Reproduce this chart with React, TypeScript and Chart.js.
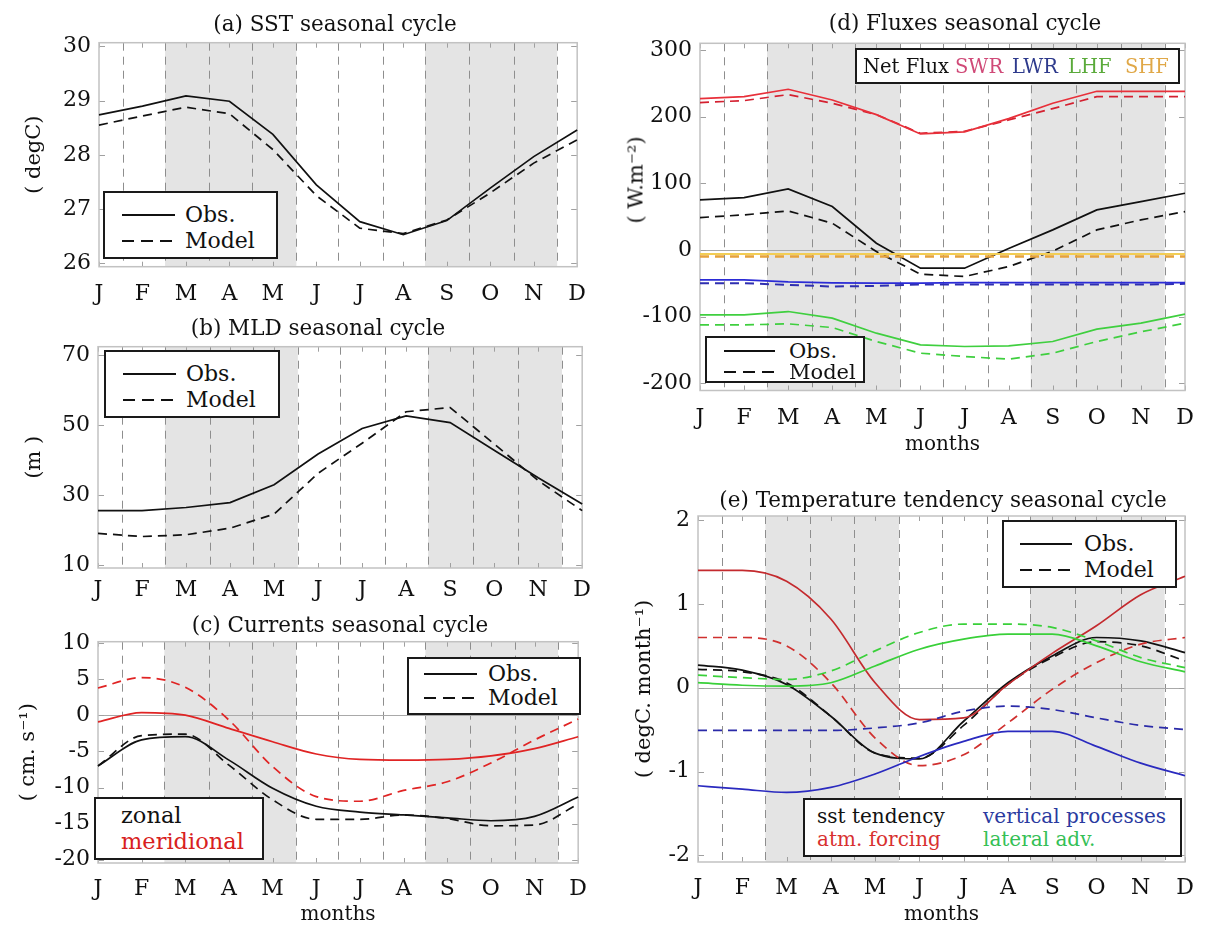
import React, { useEffect, useRef } from 'react';
import { Chart, registerables } from 'chart.js';

Chart.register(...registerables);

const FONT = "'DejaVu Serif', serif";
Chart.defaults.font.family = FONT;
Chart.defaults.color = '#111';

// ---------- data ----------
const MONTHS = ['J', 'F', 'M', 'A', 'M', 'J', 'J', 'A', 'S', 'O', 'N', 'D'];
// month boundaries (dashed lines) and shaded seasons, in month-index units
const BOUNDS = [0.55, 1.52, 2.54, 3.52, 4.54, 5.5, 6.53, 7.5, 8.52, 9.55, 10.54];
const BANDS = [[1.52, 4.54], [7.5, 10.54]];

// (a) SST (degC)
const SST_OBS = [28.74, 28.9, 29.09, 28.99, 28.38, 27.45, 26.77, 26.53, 26.79, 27.39, 27.97, 28.46];
const SST_MODEL = [28.55, 28.72, 28.88, 28.76, 28.1, 27.25, 26.65, 26.55, 26.8, 27.3, 27.85, 28.28];
const SST_TICKS = [26, 27, 28, 29, 30];

// (b) MLD (m)
const MLD_OBS = [25.5, 25.5, 26.4, 27.8, 32.9, 41.7, 49, 52.6, 50.7, 42.8, 34.9, 27.4];
const MLD_MODEL = [19, 18.1, 18.6, 20.5, 24.5, 36.2, 44.8, 53.8, 55, 44.6, 34.1, 25.5];
const MLD_TICKS = [10, 30, 50, 70];

// (c) currents (cm/s)
const ZONAL_OBS = [-7, -3.4, -2.95, -6.2, -10.1, -12.6, -13.4, -13.8, -14.2, -14.6, -14.0, -11.3];
const ZONAL_MODEL = [-7, -2.8, -2.6, -6.9, -11.7, -14.4, -14.4, -13.8, -14.3, -15.3, -15.2, -12.3];
const MERID_OBS = [-0.9, 0.4, 0.04, -1.8, -3.65, -5.35, -6.1, -6.2, -6.1, -5.6, -4.6, -2.95];
const MERID_MODEL = [3.8, 5.25, 3.9, -0.65, -7.1, -11.25, -11.9, -10.4, -9.2, -6.6, -3.4, -0.5];
const CUR_TICKS = [-20, -15, -10, -5, 0, 5, 10];

// (d) fluxes (W/m2)
const NET_OBS = [75, 78.5, 91.5, 65, 10, -27.5, -27.5, 2, 30, 60, 72.5, 85];
const NET_MODEL = [48.5, 52.5, 58.5, 40, -2.5, -36.5, -40, -25, -2, 30, 45, 57.5];
const SWR_OBS = [227, 230, 241, 225, 203, 174, 177, 197, 220, 238, 238, 238];
const SWR_MODEL = [221, 224, 233, 220, 203, 175, 178, 195, 212, 230, 230, 230];
const LWR_OBS = [-45, -45, -48, -49.5, -50, -50, -49, -49, -49, -49, -49, -49];
const LWR_MODEL = [-50, -50, -52.5, -55, -54, -52, -52, -52, -52, -52, -52, -51];
const LHF_OBS = [-97.5, -97.5, -92.5, -102.5, -125, -142.5, -145, -144, -137.5, -119, -110, -96.5];
const LHF_MODEL = [-112.5, -112.5, -111, -116.5, -137.5, -155, -160, -164, -155, -137.5, -123, -110];
const SHF_OBS = [-6, -6, -6, -6, -6, -6, -6, -6, -6, -6, -6, -6];
const SHF_MODEL = [-10, -10, -10, -10, -10, -10, -10, -10, -10, -10, -10, -10];
const FLUX_TICKS = [-200, -100, 0, 100, 200, 300];

// (e) temperature tendency (degC/month)
const TEND_OBS = [0.27, 0.21, 0.04, -0.34, -0.78, -0.85, -0.4, 0.06, 0.38, 0.6, 0.56, 0.42];
const TEND_MODEL = [0.22, 0.19, 0.06, -0.34, -0.78, -0.84, -0.45, 0.04, 0.36, 0.55, 0.5, 0.32];
const ATM_OBS = [1.4, 1.4, 1.27, 0.82, 0.06, -0.38, -0.36, 0.04, 0.41, 0.74, 1.11, 1.33];
const ATM_MODEL = [0.6, 0.6, 0.5, 0.06, -0.6, -0.93, -0.8, -0.42, -0.02, 0.3, 0.52, 0.6];
const VERT_OBS = [-1.17, -1.21, -1.25, -1.19, -1.03, -0.82, -0.64, -0.52, -0.52, -0.7, -0.9, -1.05];
const VERT_MODEL = [-0.51, -0.51, -0.51, -0.51, -0.48, -0.42, -0.28, -0.22, -0.26, -0.36, -0.45, -0.5];
const LAT_OBS = [0.06, 0.03, 0.02, 0.06, 0.26, 0.46, 0.58, 0.64, 0.64, 0.5, 0.31, 0.19];
const LAT_MODEL = [0.15, 0.12, 0.1, 0.2, 0.44, 0.66, 0.76, 0.76, 0.72, 0.56, 0.36, 0.24];
const TEND_TICKS = [-2, -1, 0, 1, 2];

// ---------- styles ----------
const BLACK = '#111111';
const DASH = [9, 6];

type Series = { data: number[]; color: string; dashed?: boolean; width?: number };

const decorPlugin = {
  id: 'decor',
  beforeDatasetsDraw(chart: any, _args: any, opts: any) {
    const { ctx, chartArea: a, scales } = chart;
    const x = scales.x, y = scales.y;
    ctx.save();
    ctx.fillStyle = '#e4e4e4';
    for (const [s, e] of BANDS) {
      const x0 = x.getPixelForValue(s), x1 = x.getPixelForValue(e);
      ctx.fillRect(x0, a.top, x1 - x0, a.bottom - a.top);
    }
    ctx.strokeStyle = '#8e8e8e';
    ctx.lineWidth = 1;
    ctx.setLineDash([8, 6]);
    for (const b of BOUNDS) {
      const px = Math.round(x.getPixelForValue(b)) + 0.5;
      ctx.beginPath();
      ctx.moveTo(px, a.top);
      ctx.lineTo(px, a.bottom);
      ctx.stroke();
    }
    ctx.setLineDash([]);
    if (opts && opts.zero) {
      const py = Math.round(y.getPixelForValue(0)) + 0.5;
      ctx.strokeStyle = '#a9a9a9';
      ctx.lineWidth = 1.2;
      ctx.beginPath();
      ctx.moveTo(a.left, py);
      ctx.lineTo(a.right, py);
      ctx.stroke();
    }
    ctx.strokeStyle = '#a0a0a0';
    ctx.lineWidth = 1;
    for (let i = 0; i < MONTHS.length; i++) {
      const px = Math.round(x.getPixelForValue(i)) + 0.5;
      ctx.beginPath();
      ctx.moveTo(px, a.top); ctx.lineTo(px, a.top + 5);
      ctx.moveTo(px, a.bottom); ctx.lineTo(px, a.bottom - 5);
      ctx.stroke();
    }
    for (const t of y.ticks) {
      const py = Math.round(y.getPixelForValue(t.value)) + 0.5;
      ctx.beginPath();
      ctx.moveTo(a.left, py); ctx.lineTo(a.left + 6, py);
      ctx.moveTo(a.right, py); ctx.lineTo(a.right - 6, py);
      ctx.stroke();
    }
    ctx.strokeStyle = '#c2c2c2';
    ctx.lineWidth = 1.5;
    ctx.strokeRect(a.left, a.top, a.right - a.left, a.bottom - a.top);
    ctx.restore();
  },
};

type PanelCfg = {
  canvas: { left: number; top: number; width: number; height: number };
  area: { L: number; T: number; R: number; B: number };
  yMin: number; yMax: number; yTicks: number[];
  yTitle?: string; yTitlePad?: number;
  xTitlePad?: number; xTickPad: number;
  zero?: boolean; tension?: number;
  series: Series[];
};

function Panel({ cfg }: { cfg: PanelCfg }) {
  const ref = useRef<HTMLCanvasElement>(null);
  const c = cfg.canvas;
  useEffect(() => {
    const area = cfg.area;
    const chart = new Chart(ref.current as HTMLCanvasElement, {
      type: 'line',
      data: {
        labels: MONTHS,
        datasets: cfg.series.map((s) => ({
          data: s.data,
          borderColor: s.color,
          borderWidth: s.width ?? 1.7,
          borderDash: s.dashed ? DASH : [],
          pointRadius: 0,
          fill: false,
          tension: cfg.tension ?? 0,
          cubicInterpolationMode: cfg.tension ? 'monotone' : 'default',
        })) as any,
      },
      options: {
        responsive: false,
        maintainAspectRatio: false,
        animation: false,
        events: [],
        layout: { padding: { left: 0, top: area.T - c.top, right: c.left + c.width - area.R, bottom: 0 } },
        plugins: {
          legend: { display: false },
          tooltip: { enabled: false },
          title: { display: false },
          decor: { zero: !!cfg.zero },
        } as any,
        scales: {
          x: {
            type: 'category',
            offset: false,
            grid: { display: false, drawTicks: false },
            border: { display: false },
            ticks: { autoSkip: false, maxRotation: 0, padding: cfg.xTickPad, color: BLACK, font: { family: FONT, size: 22 } },
            title: cfg.xTitlePad !== undefined
              ? { display: true, text: 'months', color: BLACK, font: { family: FONT, size: 20 }, padding: { top: 0, bottom: cfg.xTitlePad } }
              : { display: false },
            afterFit: (s: any) => { s.height = c.top + c.height - area.B; },
          },
          y: {
            type: 'linear',
            min: cfg.yMin,
            max: cfg.yMax,
            grid: { display: false, drawTicks: false },
            border: { display: false },
            ticks: { padding: 8, color: BLACK, font: { family: FONT, size: 22 }, callback: (v: any) => String(v) },
            afterBuildTicks: (s: any) => { s.ticks = cfg.yTicks.map((v) => ({ value: v })); },
            title: cfg.yTitle
              ? { display: true, text: cfg.yTitle, color: BLACK, font: { family: FONT, size: 21 }, padding: { top: cfg.yTitlePad ?? 20, bottom: 0 } }
              : { display: false },
            afterFit: (s: any) => { s.width = area.L - c.left; },
          },
        },
      } as any,
      plugins: [decorPlugin],
    });
    return () => chart.destroy();
  }, []);
  return (
    <canvas
      ref={ref}
      width={c.width}
      height={c.height}
      style={{ position: 'absolute', left: c.left, top: c.top, width: c.width, height: c.height }}
    />
  );
}

const PANELS: PanelCfg[] = [
  {
    canvas: { left: 0, top: 0, width: 600, height: 305 },
    area: { L: 99, T: 42.7, R: 583, B: 266.7 },
    yMin: 25.94, yMax: 30.07, yTicks: SST_TICKS,
    yTitle: '( degC)', yTitlePad: 22.4, xTickPad: 14,
    series: [
      { data: SST_OBS, color: BLACK },
      { data: SST_MODEL, color: BLACK, dashed: true },
    ],
  },
  {
    canvas: { left: 0, top: 310, width: 600, height: 300 },
    area: { L: 98, T: 346.7, R: 585, B: 568 },
    yMin: 9.1, yMax: 72.4, yTicks: MLD_TICKS,
    yTitle: '(m )', yTitlePad: 22.4, xTickPad: 9,
    series: [
      { data: MLD_OBS, color: BLACK },
      { data: MLD_MODEL, color: BLACK, dashed: true },
    ],
  },
  {
    canvas: { left: 0, top: 612, width: 600, height: 316 },
    area: { L: 98, T: 641.7, R: 585, B: 863 },
    yMin: -20.46, yMax: 10.22, yTicks: CUR_TICKS,
    yTitle: '( cm. s\u207B\u00B9)', yTitlePad: 16.4, xTickPad: 13, xTitlePad: 1,
    zero: true, tension: 0.35,
    series: [
      { data: MERID_OBS, color: '#e02424' },
      { data: MERID_MODEL, color: '#e02424', dashed: true },
      { data: ZONAL_OBS, color: BLACK },
      { data: ZONAL_MODEL, color: BLACK, dashed: true },
    ],
  },
  {
    canvas: { left: 600, top: 0, width: 612, height: 460 },
    area: { L: 700, T: 43.3, R: 1185, B: 390.5 },
    yMin: -211, yMax: 310, yTicks: FLUX_TICKS,
    xTickPad: 15, xTitlePad: 3,
    zero: true,
    series: [
      { data: SHF_OBS, color: '#f2cd55', width: 2 },
      { data: SHF_MODEL, color: '#e6a23c', dashed: true, width: 2.4 },
      { data: LWR_OBS, color: '#2b2bd6' },
      { data: LWR_MODEL, color: '#2f2fb0', dashed: true, width: 2 },
      { data: LHF_OBS, color: '#3fcf3f' },
      { data: LHF_MODEL, color: '#3fcf3f', dashed: true },
      { data: SWR_OBS, color: '#e8303a' },
      { data: SWR_MODEL, color: '#d42030', dashed: true },
      { data: NET_OBS, color: BLACK },
      { data: NET_MODEL, color: BLACK, dashed: true },
    ],
  },
  {
    canvas: { left: 600, top: 470, width: 612, height: 458 },
    area: { L: 698, T: 516, R: 1185, B: 862 },
    yMin: -2.08, yMax: 2.05, yTicks: TEND_TICKS,
    yTitle: '( degC. month\u207B\u00B9)', yTitlePad: 32.4, xTickPad: 13, xTitlePad: 1,
    zero: true, tension: 0.3,
    series: [
      { data: VERT_OBS, color: '#2a2abf' },
      { data: VERT_MODEL, color: '#2a2aa8', dashed: true },
      { data: LAT_OBS, color: '#39d039' },
      { data: LAT_MODEL, color: '#39d039', dashed: true },
      { data: ATM_OBS, color: '#c42a2e' },
      { data: ATM_MODEL, color: '#d0302f', dashed: true },
      { data: TEND_OBS, color: BLACK },
      { data: TEND_MODEL, color: BLACK, dashed: true },
    ],
  },
];

// ---------- HTML text overlays ----------
const TITLES = [
  { text: '(a) SST seasonal cycle', x: 335, y: 24 },
  { text: '(b) MLD seasonal cycle', x: 318, y: 328 },
  { text: '(c) Currents seasonal cycle', x: 340, y: 625 },
  { text: '(d) Fluxes seasonal cycle', x: 965, y: 23 },
  { text: '(e) Temperature tendency seasonal cycle', x: 943, y: 500 },
];

function Title({ text, x, y }: { text: string; x: number; y: number }) {
  return (
    <div style={{ position: 'absolute', left: x, top: y, transform: 'translate(-50%,-50%)', fontFamily: FONT, fontSize: 21.5, lineHeight: 1, whiteSpace: 'nowrap', color: BLACK }}>
      {text}
    </div>
  );
}

type Box = { x: number; y: number; w: number; h: number };

function LegendBox({ box, children }: { box: Box; children: React.ReactNode }) {
  return (
    <div style={{ position: 'absolute', left: box.x, top: box.y, width: box.w, height: box.h, border: '2px solid #1a1a1a', background: '#fff', boxSizing: 'border-box' }}>
      {children}
    </div>
  );
}

function Label({ x, y, text, color = BLACK, size = 22 }: { x: number; y: number; text: string; color?: string; size?: number }) {
  return (
    <div style={{ position: 'absolute', left: x, top: y, transform: 'translateY(-50%)', fontFamily: FONT, fontSize: size, lineHeight: 1, whiteSpace: 'nowrap', color }}>
      {text}
    </div>
  );
}

function ObsModel({ box, s0, s1, tx, r0, r1, size = 22 }: { box: Box; s0: number; s1: number; tx: number; r0: number; r1: number; size?: number }) {
  return (
    <LegendBox box={box}>
      <svg style={{ position: 'absolute', left: 0, top: 0 }} width={box.w} height={box.h}>
        <line x1={s0} x2={s1} y1={r0} y2={r0} stroke={BLACK} strokeWidth={1.8} />
        <line x1={s0} x2={s1} y1={r1} y2={r1} stroke={BLACK} strokeWidth={1.8} strokeDasharray="12 7" />
      </svg>
      <Label x={tx} y={r0} text="Obs." size={size} />
      <Label x={tx} y={r1} text="Model" size={size} />
    </LegendBox>
  );
}

export default function App() {
  return (
    <div style={{ position: 'absolute', left: 0, top: 0, width: 1212, height: 928, background: '#fff', overflow: 'hidden' }}>
      {PANELS.map((p, i) => <Panel key={i} cfg={p} />)}
      {TITLES.map((t, i) => <Title key={i} {...t} />)}

      <div style={{ position: 'absolute', left: 636, top: 180, transform: 'translate(-50%,-50%) rotate(-90deg)', fontFamily: FONT, fontSize: 21, lineHeight: 1, whiteSpace: 'nowrap', color: BLACK }}>
        ( W.m{'\u207B\u00B2'})
      </div>

      <ObsModel box={{ x: 103, y: 191, w: 175, h: 68 }} s0={17} s1={70} tx={80} r0={22} r1={48} />
      <ObsModel box={{ x: 104, y: 350, w: 176, h: 68 }} s0={17} s1={70} tx={80} r0={22} r1={48} />
      <ObsModel box={{ x: 407, y: 657, w: 174, h: 58 }} s0={15} s1={68} tx={79} r0={15} r1={39} />
      <ObsModel box={{ x: 705, y: 336, w: 160, h: 47 }} s0={17} s1={68} tx={82} r0={13} r1={34} size={21} />
      <ObsModel box={{ x: 1002, y: 520, w: 175, h: 68 }} s0={16} s1={68} tx={80} r0={22} r1={48} />

      <LegendBox box={{ x: 94, y: 797, w: 170, h: 63 }}>
        <Label x={25} y={16} text="zonal" size={22.5} />
        <Label x={25} y={42} text="meridional" color="#d82020" size={22.5} />
      </LegendBox>

      <LegendBox box={{ x: 855, y: 48, w: 325, h: 36 }}>
        <Label x={6} y={17} text="Net Flux" size={19.5} />
        <Label x={98} y={17} text="SWR" color="#d04a78" size={19.5} />
        <Label x={155} y={17} text="LWR" color="#2e3a8c" size={19.5} />
        <Label x={211} y={17} text="LHF" color="#5aaa3a" size={19.5} />
        <Label x={268} y={17} text="SHF" color="#e0a848" size={19.5} />
      </LegendBox>

      <LegendBox box={{ x: 803, y: 798, w: 379, h: 59 }}>
        <Label x={12} y={16} text="sst tendency" size={20} />
        <Label x={12} y={39} text="atm. forcing" color="#d8302f" size={20} />
        <Label x={178} y={16} text="vertical processes" color="#2a3aa0" size={20} />
        <Label x={178} y={39} text="lateral adv." color="#35c055" size={20} />
      </LegendBox>
    </div>
  );
}
